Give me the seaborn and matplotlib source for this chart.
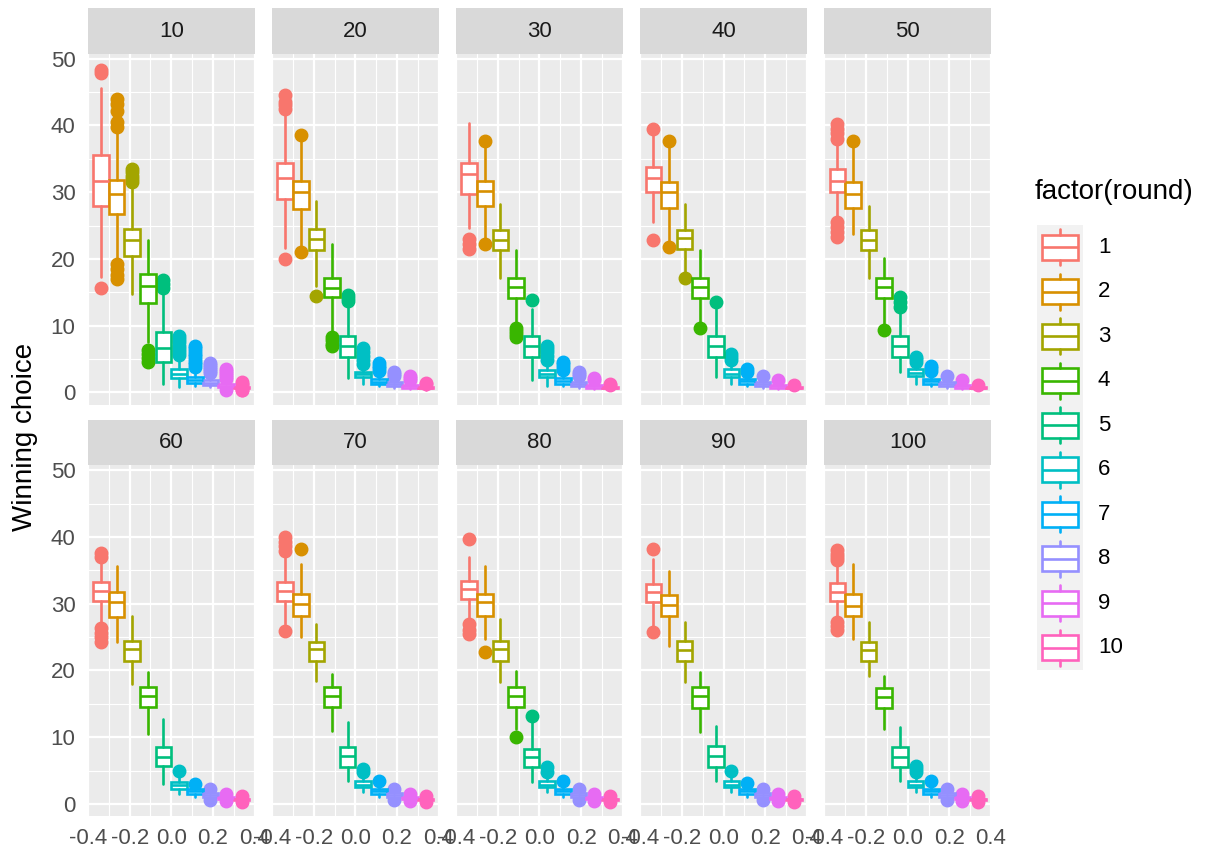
import matplotlib
matplotlib.use("Agg")
import matplotlib.pyplot as plt
from matplotlib.patches import Rectangle
from matplotlib.ticker import MultipleLocator, FixedLocator
import pandas as pd
import seaborn as sns

# ---------------------------------------------------------------- data
panels = [10, 20, 30, 40, 50, 60, 70, 80, 90, 100]
rounds = [1, 2, 3, 4, 5, 6, 7, 8, 9, 10]
round_colors = ["#F8766D", "#D89000", "#A3A500", "#39B600", "#00BF7D",
                "#00BFC4", "#00B0F6", "#9590FF", "#E76BF3", "#FF62BC"]
x_ticks = [-0.4, -0.2, 0.0, 0.2, 0.4]
y_ticks = [0, 10, 20, 30, 40, 50]

# box statistics per round: [lower whisker, Q1, median, Q3, upper whisker]
box_10 = [[17.3, 28.0, 31.7, 35.5, 45.6], [20.0, 26.8, 29.8, 31.9, 39.0],
          [14.8, 20.4, 22.9, 24.5, 31.0], [7.5, 13.4, 16.0, 17.8, 22.8],
          [1.3, 4.5, 6.6, 9.0, 15.0], [0.8, 2.1, 2.8, 3.5, 5.2],
          [1.0, 1.4, 1.8, 2.3, 3.5], [0.8, 1.1, 1.4, 1.8, 2.7],
          [0.5, 0.8, 1.0, 1.2, 1.8], [0.5, 0.6, 0.7, 0.8, 0.95]]
out_10 = [[47.9, 48.3, 15.7], [44.0, 43.2, 42.2, 40.5, 39.8, 19.3, 18.5, 17.6, 17.0],
          [33.5, 33.0, 32.5, 32.0, 31.5], [6.3, 5.8, 5.2, 4.6],
          [16.8, 16.3, 15.7], [5.6, 6.0, 6.5, 7.0, 7.5, 8.0, 8.5],
          [3.8, 4.2, 4.6, 5.0, 5.4, 5.8, 6.2, 6.6, 7.0], [2.9, 3.2, 3.5, 3.8, 4.1, 4.4],
          [2.0, 2.3, 2.6, 2.9, 3.2, 3.5, 0.3], [1.1, 1.3, 1.5, 0.3, 0.4]]

box_20 = [[21.6, 29.0, 32.2, 34.3, 41.5], [21.7, 27.5, 30.0, 31.7, 37.7],
          [16.0, 21.3, 23.0, 24.5, 28.7], [8.8, 14.3, 15.6, 17.2, 22.3],
          [2.1, 5.3, 7.0, 8.5, 13.0], [1.3, 2.3, 2.7, 3.0, 3.8],
          [0.9, 1.3, 1.6, 2.0, 2.9], [0.7, 1.0, 1.3, 1.6, 2.2],
          [0.5, 0.7, 0.9, 1.1, 1.5], [0.4, 0.6, 0.7, 0.8, 1.0]]
out_20 = [[44.5, 43.5, 43.0, 42.5, 20.0], [38.5, 21.0], [14.5], [8.3, 7.8, 7.3, 7.0],
          [14.6, 14.2, 13.7], [4.2, 4.8, 5.4, 6.0, 6.6], [3.2, 3.6, 4.0, 4.4],
          [2.5, 2.8, 3.1], [1.8, 2.1, 2.4], [1.2, 1.4]]

box_30 = [[24.6, 29.8, 32.8, 34.3, 40.4], [22.8, 28.0, 30.2, 31.7, 37.0],
          [17.1, 21.3, 22.9, 24.3, 28.3], [10.0, 14.1, 15.8, 17.2, 21.3],
          [1.8, 5.3, 7.0, 8.5, 12.5], [1.0, 2.3, 2.8, 3.3, 4.5],
          [0.9, 1.3, 1.7, 2.1, 3.0], [0.7, 1.0, 1.3, 1.6, 2.2],
          [0.5, 0.7, 0.9, 1.1, 1.5], [0.4, 0.6, 0.7, 0.8, 1.0]]
out_30 = [[23.0, 22.2, 21.5], [37.7, 22.2], [], [9.7, 9.2, 8.7, 8.3], [13.8],
          [4.9, 5.5, 6.0, 6.5, 7.0], [3.4, 3.8, 4.2, 4.5], [2.5, 2.8, 3.0],
          [1.8, 2.1], [1.1, 1.3]]

box_40 = [[25.5, 30.0, 32.2, 33.7, 38.5], [22.5, 27.7, 30.0, 31.5, 37.0],
          [17.8, 21.5, 23.1, 24.3, 28.3], [10.3, 14.1, 15.8, 17.2, 21.3],
          [2.3, 5.3, 7.0, 8.5, 12.5], [1.3, 2.3, 2.8, 3.5, 4.4],
          [0.9, 1.3, 1.7, 2.0, 2.8], [0.7, 1.0, 1.3, 1.6, 2.1],
          [0.5, 0.7, 0.9, 1.1, 1.5], [0.4, 0.6, 0.7, 0.8, 1.0]]
out_40 = [[39.5, 22.8], [37.7, 21.8], [17.1], [9.6], [13.5], [4.8, 5.3, 5.8],
          [3.1, 3.5], [2.5], [1.8], [1.1]]

box_50 = [[26.0, 30.0, 31.7, 33.5, 37.5], [23.8, 27.7, 29.8, 31.5, 37.0],
          [17.1, 21.3, 22.8, 24.3, 28.0], [10.0, 14.1, 15.8, 17.2, 20.2],
          [3.0, 5.3, 7.0, 8.5, 12.5], [1.3, 2.5, 2.9, 3.5, 4.2],
          [0.9, 1.3, 1.7, 2.0, 2.8], [0.7, 1.0, 1.3, 1.6, 2.1],
          [0.5, 0.7, 0.9, 1.1, 1.5], [0.4, 0.6, 0.7, 0.8, 1.0]]
out_50 = [[40.2, 39.5, 38.8, 38.0, 25.5, 24.8, 24.0, 23.3], [37.7], [], [9.3],
          [12.8, 13.5, 14.3], [4.5, 5.0, 5.3], [3.2, 3.6, 4.0], [2.5], [1.8], [1.1]]

box_60 = [[26.9, 30.4, 31.9, 33.2, 36.7], [24.3, 28.0, 30.2, 31.7, 35.6],
          [18.0, 21.4, 23.2, 24.4, 28.1], [10.5, 14.5, 16.2, 17.5, 19.8],
          [3.0, 5.7, 7.0, 8.5, 12.7], [1.5, 2.2, 2.8, 3.3, 4.2],
          [1.0, 1.5, 1.9, 2.3, 2.7], [0.7, 1.0, 1.3, 1.6, 2.0],
          [0.5, 0.7, 0.9, 1.0, 1.3], [0.4, 0.6, 0.7, 0.8, 1.0]]
out_60 = [[37.6, 37.0, 26.3, 25.6, 25.0, 24.3], [], [], [], [], [5.0], [3.0],
          [2.2, 0.6], [1.5, 0.4], [1.2, 0.3]]

box_70 = [[26.9, 30.4, 31.9, 33.2, 37.0], [25.0, 28.1, 29.9, 31.4, 35.9],
          [18.4, 21.4, 23.2, 24.2, 26.9], [10.9, 14.5, 16.2, 17.5, 19.5],
          [3.4, 5.5, 7.2, 8.5, 12.3], [1.8, 2.5, 2.9, 3.4, 4.3],
          [1.0, 1.5, 1.9, 2.3, 2.9], [0.7, 1.0, 1.3, 1.6, 2.0],
          [0.5, 0.7, 0.9, 1.0, 1.3], [0.4, 0.6, 0.7, 0.8, 1.0]]
out_70 = [[40.0, 39.3, 38.6, 37.9, 25.9], [38.2], [], [], [], [4.8, 5.2], [3.4],
          [2.2, 0.6], [1.5, 0.4], [1.2, 0.3]]

box_80 = [[27.4, 30.7, 32.2, 33.4, 37.0], [24.7, 28.1, 30.2, 31.4, 35.6],
          [18.3, 21.4, 23.2, 24.4, 27.7], [11.2, 14.5, 16.2, 17.5, 19.9],
          [3.3, 5.5, 7.0, 8.2, 12.5], [1.8, 2.5, 2.9, 3.4, 4.3],
          [1.0, 1.5, 1.9, 2.3, 2.9], [0.7, 1.0, 1.3, 1.6, 2.0],
          [0.5, 0.7, 0.9, 1.0, 1.3], [0.4, 0.6, 0.7, 0.8, 1.0]]
out_80 = [[39.7, 26.9, 26.1, 25.4], [22.7], [], [10.0], [13.2], [4.8, 5.5], [3.4],
          [2.2, 0.6], [1.5, 0.4], [1.2, 0.3]]

box_90 = [[26.5, 30.2, 31.7, 32.9, 36.7], [23.7, 28.1, 29.8, 31.3, 34.9],
          [18.3, 21.4, 23.1, 24.4, 27.2], [10.8, 14.4, 16.2, 17.5, 19.8],
          [3.4, 5.5, 7.2, 8.7, 11.7], [1.8, 2.5, 2.9, 3.4, 4.3],
          [1.0, 1.5, 1.9, 2.3, 2.9], [0.7, 1.0, 1.3, 1.6, 2.0],
          [0.5, 0.7, 0.9, 1.0, 1.3], [0.4, 0.6, 0.7, 0.8, 1.0]]
out_90 = [[38.2, 25.7], [], [], [], [], [5.0], [3.2],
          [2.2, 0.6], [1.5, 0.4], [1.2, 0.3]]

box_100 = [[27.7, 30.4, 31.8, 33.1, 36.0], [24.7, 28.1, 29.7, 31.4, 35.9],
           [19.2, 21.4, 23.0, 24.3, 27.2], [11.2, 14.4, 16.0, 17.3, 19.2],
           [3.4, 5.5, 7.0, 8.5, 11.5], [1.8, 2.5, 2.9, 3.4, 4.3],
           [1.0, 1.5, 1.9, 2.3, 2.9], [0.7, 1.0, 1.3, 1.6, 2.0],
           [0.5, 0.7, 0.9, 1.0, 1.3], [0.4, 0.6, 0.7, 0.8, 1.0]]
out_100 = [[38.0, 37.5, 37.0, 36.5, 27.2, 26.6, 26.0], [], [], [], [],
           [4.8, 5.3, 5.7], [3.4], [2.2, 0.6], [1.5, 0.4], [1.2, 0.3]]

box_stats = dict(zip(panels, [box_10, box_20, box_30, box_40, box_50,
                              box_60, box_70, box_80, box_90, box_100]))
outliers = dict(zip(panels, [out_10, out_20, out_30, out_40, out_50,
                             out_60, out_70, out_80, out_90, out_100]))

rows = []
for p in panels:
    for r, s in zip(rounds, box_stats[p]):
        rows.append(dict(panel=p, round=r, whislo=s[0], q1=s[1], med=s[2],
                         q3=s[3], whishi=s[4]))
df = pd.DataFrame(rows)

# ---------------------------------------------------------------- style
sns.set_theme(style="darkgrid", rc={
    "axes.facecolor": "#EBEBEB",
    "grid.color": "white",
    "grid.linewidth": 1.6,
    "axes.edgecolor": "none",
    "xtick.color": "#333333",
    "ytick.color": "#333333",
    "xtick.labelcolor": "#4D4D4D",
    "ytick.labelcolor": "#4D4D4D",
})
plt.rcParams["font.family"] = ["Liberation Sans", "DejaVu Sans"]

W, H = 1218, 857
g = sns.FacetGrid(df, col="panel", col_wrap=5, sharex=True, sharey=True,
                  height=3, aspect=1, despine=False)
fig = g.figure
fig.set_size_inches(W / 100, H / 100)
fig.subplots_adjust(left=88 / W, right=991 / W, top=1 - 54 / H,
                    bottom=1 - 816 / H, wspace=0.105, hspace=0.174)

# dodge layout: ten boxes share the span -0.375 .. 0.375
n = len(rounds)
box_width = 0.75 / n
centers = [-0.375 + box_width * (i + 0.5) for i in range(n)]
lw = 1.9
strip_h = 46 / 351

for panel, ax in g.axes_dict.items():
    sub = df[df["panel"] == panel]
    for _, row in sub.iterrows():
        i = int(row["round"]) - 1
        c = round_colors[i]
        stats = [dict(whislo=row["whislo"], q1=row["q1"], med=row["med"],
                      q3=row["q3"], whishi=row["whishi"],
                      fliers=outliers[panel][i])]
        ax.bxp(stats, positions=[centers[i]], widths=box_width,
               patch_artist=True, showcaps=False, manage_ticks=False,
               boxprops=dict(facecolor="white", edgecolor=c, linewidth=lw),
               medianprops=dict(color=c, linewidth=lw),
               whiskerprops=dict(color=c, linewidth=lw),
               flierprops=dict(marker="o", markerfacecolor=c,
                               markeredgecolor=c, markersize=9, zorder=1.5))
    ax.set_xlim(-0.4, 0.4)
    ax.set_ylim(-1.8, 50.7)
    ax.xaxis.set_major_locator(FixedLocator(x_ticks))
    ax.yaxis.set_major_locator(FixedLocator(y_ticks))
    ax.xaxis.set_minor_locator(MultipleLocator(0.1))
    ax.yaxis.set_minor_locator(MultipleLocator(5))
    ax.grid(which="major", color="white", linewidth=1.6)
    ax.grid(which="minor", color="white", linewidth=0.8)
    ax.tick_params(which="major", length=5, width=1.1, labelsize=16, pad=4)
    ax.tick_params(which="minor", length=0)
    for sp in ax.spines.values():
        sp.set_visible(False)
    ax.set_title("")
    ax.set_xlabel("")
    ax.set_ylabel("")
    # facet strip
    ax.add_patch(Rectangle((0, 1), 1, strip_h, transform=ax.transAxes,
                           clip_on=False, facecolor="#D9D9D9",
                           edgecolor="none", zorder=3))
    ax.text(0.5, 1 + strip_h / 2, str(panel), transform=ax.transAxes,
            ha="center", va="center", fontsize=16, color="#1A1A1A")

for ax in g.axes.flat:
    ax.set_xticklabels([f"{v:.1f}" for v in x_ticks])

fig.text(25.5 / W, 1 - 437 / H, "Winning choice", rotation=90,
         ha="center", va="center", fontsize=20, color="black")

# ---------------------------------------------------------------- legend
fig.text(1035 / W, 1 - 192 / H, "factor(round)", ha="left", va="center",
         fontsize=20, color="black")
key_top, key_h, key_w = 225, 44.5, 46
lax = fig.add_axes([1037 / W, 1 - (key_top + key_h * n) / H, key_w / W,
                    key_h * n / H])
lax.set_facecolor("#F2F2F2")
lax.grid(False)
lax.set_xlim(0, 1)
lax.set_ylim(n, 0)
lax.set_xticks([])
lax.set_yticks([])
for sp in lax.spines.values():
    sp.set_visible(False)
for i, r in enumerate(rounds):
    c = round_colors[i]
    lax.bxp([dict(whislo=i + 0.1, q1=i + 0.22, med=i + 0.5, q3=i + 0.78,
                  whishi=i + 0.9, fliers=[])],
            positions=[0.5], widths=0.8, patch_artist=True, showcaps=False,
            manage_ticks=False,
            boxprops=dict(facecolor="white", edgecolor=c, linewidth=lw),
            medianprops=dict(color=c, linewidth=lw),
            whiskerprops=dict(color=c, linewidth=lw))
    fig.text(1098 / W, 1 - (key_top + key_h * (i + 0.5)) / H, str(r),
             ha="left", va="center", fontsize=16, color="black")

fig.savefig("out.png", dpi=100)
